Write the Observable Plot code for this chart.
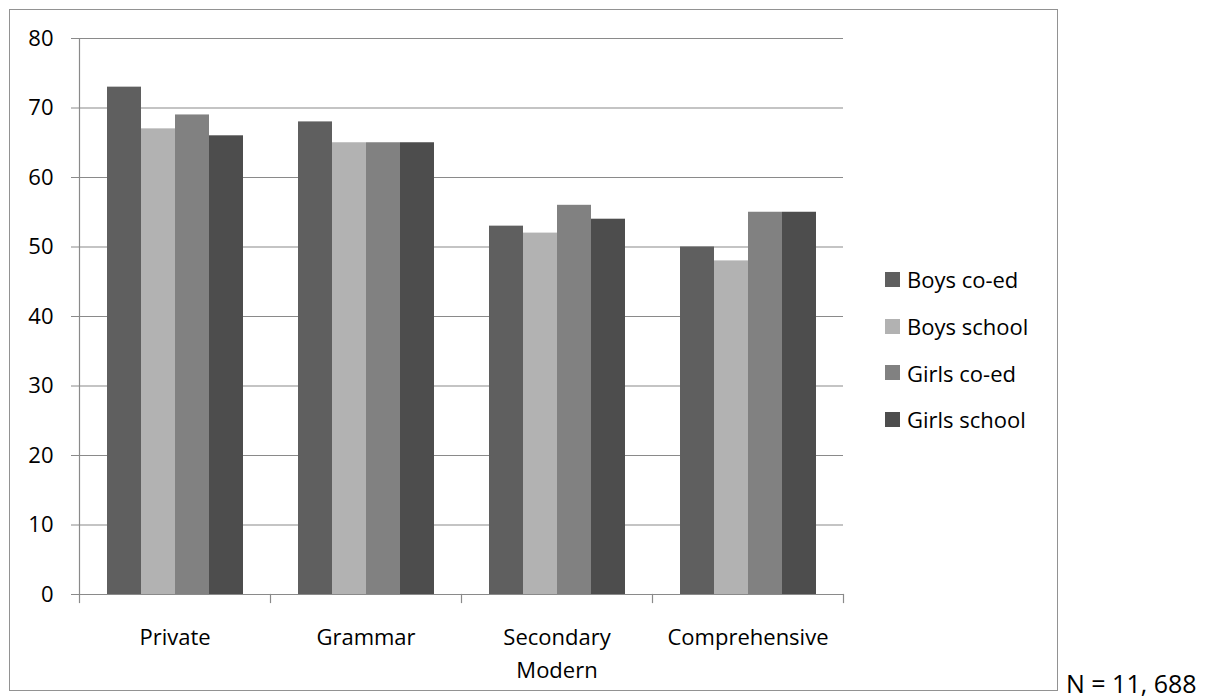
<!DOCTYPE html>
<html>
<head>
<meta charset="utf-8">
<script src="https://cdn.jsdelivr.net/npm/d3@7"></script>
<script src="https://cdn.jsdelivr.net/npm/@observablehq/plot@0.6"></script>
<style>
  html, body { margin: 0; padding: 0; background: #fff; }
  #wrap { position: relative; width: 1214px; height: 698px; font-family: "Open Sans", sans-serif; }
  #box { position: absolute; left: 9px; top: 9px; width: 1049px; height: 682px; border: 1.5px solid #929292; box-sizing: border-box; pointer-events: none; }
  #chart { position: absolute; left: 0; top: 0; }
  #legend { position: absolute; left: 885px; top: 256px; }
  .row { display: flex; align-items: center; height: 46.7px; font-size: 22px; line-height: 22px; color: #000; }
  .sw { width: 15px; height: 15px; margin-right: 7px; flex: none; }
  #note { position: absolute; left: 1066px; top: 671px; font-size: 25px; line-height: 25px; color: #000; white-space: nowrap; }
</style>
</head>
<body>
<div id="wrap">
  <div id="chart"></div>
  <div id="box"></div>
  <div id="legend"></div>
  <div id="note">N = 11, 688</div>
</div>
<script>
// School types along the x axis
const categories = ["Private", "Grammar", "Secondary Modern", "Comprehensive"];
// Series shown within each school type
const series = ["Boys co-ed", "Boys school", "Girls co-ed", "Girls school"];
const seriesColors = ["#5f5f5f", "#b2b2b2", "#818181", "#4d4d4d"];
// Values per series, in category order
const boysCoed = [73, 68, 53, 50];
const boysSchool = [67, 65, 52, 48];
const girlsCoed = [69, 65, 56, 55];
const girlsSchool = [66, 65, 54, 55];
const yTicks = [0, 10, 20, 30, 40, 50, 60, 70, 80];

const valuesBySeries = [boysCoed, boysSchool, girlsCoed, girlsSchool];
const data = categories.flatMap((category, i) =>
  series.map((s, j) => ({category, series: s, value: valuesBySeries[j][i]}))
);

const grey = "#8a8a8a";

const chart = Plot.plot({
  width: 1214,
  height: 698,
  marginLeft: 79,
  marginRight: 371,
  marginTop: 38,
  marginBottom: 104,
  style: {fontFamily: "'Open Sans', sans-serif", fontSize: "22px", color: "#000", background: "transparent"},
  fx: {domain: categories, padding: 0, label: null},
  x: {domain: series, paddingInner: 0, paddingOuter: 0.77, axis: null},
  y: {domain: [0, 80], label: null},
  color: {domain: series, range: seriesColors},
  marks: [
    Plot.ruleY(yTicks, {stroke: grey, strokeWidth: 1.2}),
    Plot.axisY({ticks: yTicks, tickSize: 8, tickPadding: 18, stroke: grey, label: null}),
    Plot.axisFx({anchor: "bottom", tickSize: 0, tickPadding: 27, label: null, lineHeight: 1.5,
                 tickFormat: d => d.replace(" ", "\n")}),
    Plot.frame({anchor: "left", facetAnchor: "left", stroke: grey, strokeWidth: 1.2}),
    Plot.frame({anchor: "left", insetTop: 556, insetBottom: -8, stroke: grey, strokeWidth: 1.2}),
    Plot.frame({anchor: "right", facetAnchor: "right", insetTop: 556, insetBottom: -8, stroke: grey, strokeWidth: 1.2}),
    Plot.barY(data, {fx: "category", x: "series", y: "value", fill: "series"})
  ]
});
document.getElementById("chart").append(chart);

// Legend built from the chart's own color scale
const color = chart.scale("color");
const legend = document.getElementById("legend");
series.forEach((s, i) => {
  const row = document.createElement("div");
  row.className = "row";
  const sw = document.createElement("span");
  sw.className = "sw";
  sw.style.background = color.range[i];
  const label = document.createElement("span");
  label.textContent = s;
  row.append(sw, label);
  legend.append(row);
});
</script>
</body>
</html>
